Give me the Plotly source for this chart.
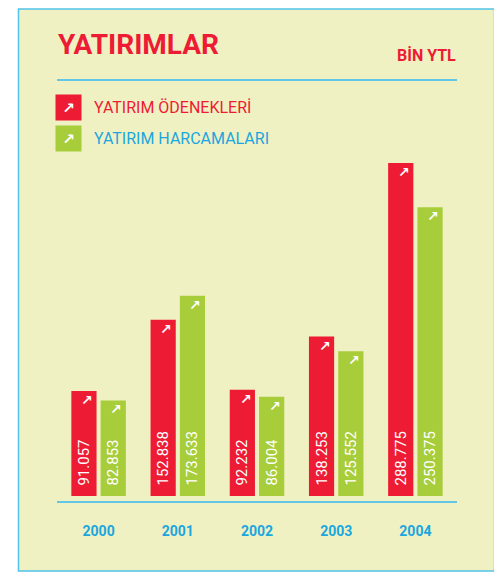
import plotly.graph_objects as go

# veriler (bin YTL)
years = ["2000", "2001", "2002", "2003", "2004"]
odenekler = [91057, 152838, 92232, 138253, 288775]
harcamalar = [82853, 173633, 86004, 125552, 250375]
series_names = ["YATIRIM ÖDENEKLERİ", "YATIRIM HARCAMALARI"]

RED = "#ed1b33"
GREEN = "#a7cd3a"
BLUE = "#1ba6df"
PANEL = "#f0f1c3"
BORDER = "#4fc3ea"

# sayfa gövdesinin 8px kenar boşluğu hesaba katılıyor
OFF = 8
W, H = 502 - OFF, 572 - OFF
L, R, T, B = 59, 455, 150, 496   # referans piksel koordinatları


def px_x(x):
    return (x - L) / (R - L)


def px_y(y):
    return (B - y) / (B - T)


fig = go.Figure()
for name, vals, color in [(series_names[0], odenekler, RED), (series_names[1], harcamalar, GREEN)]:
    fig.add_trace(go.Bar(
        x=years, y=vals, name=name,
        marker=dict(color=color, line=dict(width=0)),
        texttemplate="\u00a0\u00a0%{y:,}",
        textposition="inside",
        insidetextanchor="start",
        textangle=-90,
        textfont=dict(family="Roboto, DejaVu Sans", size=15, color="white"),
        cliponaxis=False,
    ))

# oklar (çubukların sağ üst köşesi)
annotations = []
for vals, xs in [(odenekler, -11.5), (harcamalar, 17.5)]:
    for i, v in enumerate(vals):
        annotations.append(dict(
            x=i, y=v, xref="x", yref="y", text="<b>↗</b>", showarrow=False,
            xshift=xs, yshift=-9,
            font=dict(family="DejaVu Sans", size=14, color="white"),
        ))

# başlık
annotations.append(dict(
    x=px_x(56), y=px_y(44), xref="paper", yref="paper", xanchor="left", yanchor="middle",
    text="<b>YATIRIMLAR</b>", showarrow=False,
    font=dict(family="Roboto, DejaVu Sans", size=28, color=RED),
))
annotations.append(dict(
    x=px_x(458), y=px_y(56), xref="paper", yref="paper", xanchor="right", yanchor="middle",
    text="<b>BİN YTL</b>", showarrow=False,
    font=dict(family="Roboto, DejaVu Sans", size=16, color=RED),
))

# lejant
for i, (name, sq, tc) in enumerate([(series_names[0], RED, RED), (series_names[1], GREEN, BLUE)]):
    yc = 107 + i * 31.5
    annotations.append(dict(
        x=px_x(68.5), y=px_y(yc), xref="paper", yref="paper", xanchor="center", yanchor="middle",
        text="<b>↗</b>", showarrow=False, bgcolor=sq, width=21, height=21, borderpad=2,
        font=dict(family="DejaVu Sans", size=15, color="white"),
    ))
    annotations.append(dict(
        x=px_x(91.5), y=px_y(yc), xref="paper", yref="paper", xanchor="left", yanchor="middle",
        text=name, showarrow=False,
        font=dict(family="Roboto, DejaVu Sans", size=16, color=tc),
    ))

shapes = [
    dict(type="rect", xref="paper", yref="paper", layer="below",
         x0=px_x(18.5), x1=px_x(494.5), y0=px_y(9), y1=px_y(571),
         fillcolor=PANEL, line=dict(color=BORDER, width=1.5)),
    dict(type="line", xref="paper", yref="paper",
         x0=px_x(57), x1=px_x(457), y0=px_y(80), y1=px_y(80),
         line=dict(color="#62c6e6", width=2)),
    dict(type="line", xref="paper", yref="paper",
         x0=px_x(57), x1=px_x(457), y0=px_y(502), y1=px_y(502),
         line=dict(color="#62c6e6", width=2)),
]

fig.update_layout(
    width=W, height=H,
    margin=dict(l=L - OFF, r=W - (R - OFF), t=T - OFF, b=H - (B - OFF)),
    paper_bgcolor="white", plot_bgcolor="rgba(0,0,0,0)",
    barmode="group", bargap=0.26, bargroupgap=0.14,
    separators=",.",
    showlegend=False,
    uniformtext=dict(minsize=15, mode="show"),
    annotations=annotations, shapes=shapes,
    xaxis=dict(
        type="category", range=[-0.5, 4.5], showgrid=False, zeroline=False, showline=False,
        ticks="", ticklabelstandoff=25,
        tickfont=dict(family="Roboto, DejaVu Sans", size=14, color=BLUE, weight="bold"),
    ),
    yaxis=dict(range=[0, 300000], visible=False, showgrid=False, zeroline=False),
)

fig.write_html("out.html")
